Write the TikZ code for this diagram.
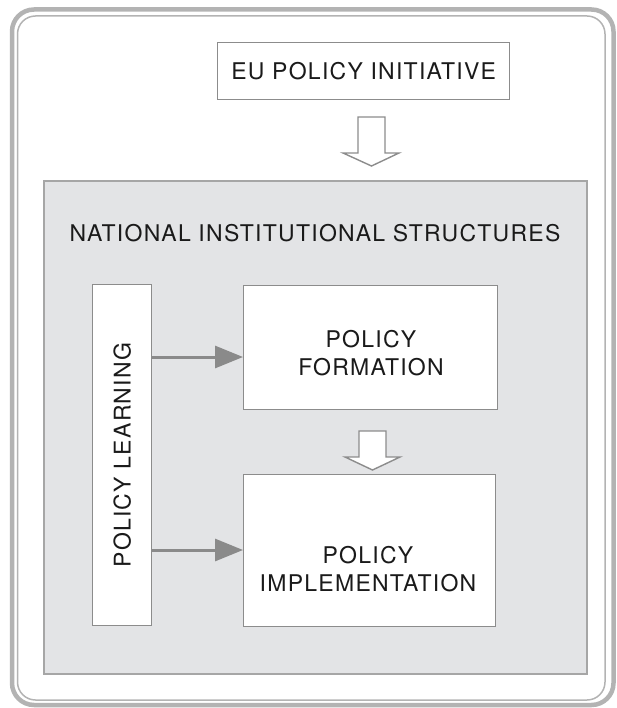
\documentclass[tikz,border=0pt]{standalone}
\usepackage{fontspec}
\setmainfont{TeX Gyre Heros}[LetterSpace=5.5]
\usetikzlibrary{arrows.meta}
\definecolor{framegray}{HTML}{B3B3B3}
\definecolor{panelfill}{HTML}{E3E4E6}
\definecolor{panelline}{HTML}{A6A6A6}
\definecolor{boxline}{HTML}{8C8C8C}
\definecolor{arrowgray}{HTML}{8A8A8A}
\definecolor{txt}{HTML}{1A1A1A}
\tikzset{
  box/.style={draw=boxline, line width=1.4pt, fill=white},
  lbl/.style={text=txt, font=\fontsize{23}{28}\selectfont, align=center, inner sep=0pt},
  hollow/.style={draw=boxline, line width=1.4pt, fill=white, line join=miter},
  solidarrow/.style={draw=arrowgray, line width=3pt, -{Triangle[length=28pt,width=22pt]}}
}
\begin{document}
\begin{tikzpicture}[x=1pt,y=-1pt]
\useasboundingbox (0,0) rectangle (616,708);
% outer frame
\draw[framegray, line width=4.5pt, rounded corners=22pt] (12,9.5) rectangle (613.5,705);
\draw[framegray, line width=1.5pt, rounded corners=18pt] (17.5,16) rectangle (605,700);
% panel
\node[draw=panelline, fill=panelfill, line width=1.8pt, minimum width=543pt, minimum height=493pt, inner sep=0pt, anchor=north west] (panel) at (43,180) {};
% EU box
\node[box, minimum width=292pt, minimum height=57pt, inner sep=0pt, anchor=north west] (eu) at (217,42) {};
\node[lbl] (eut) at (eu.center) {EU POLICY INITIATIVE};
% hollow arrow 1
\draw[hollow] (358,117) -- (385,117) -- (385,153) -- (399,153) -- (371.5,166) -- (343,153) -- (358,153) -- cycle;
% title
\node[lbl, anchor=base] (title) at (315,241) {NATIONAL INSTITUTIONAL STRUCTURES};
% policy learning
\node[box, minimum width=59pt, minimum height=341pt, inner sep=0pt, anchor=north west] (pl) at (92,284) {};
\node[lbl, rotate=90] (plt) at (pl.center) {POLICY LEARNING};
% formation
\node[box, minimum width=254pt, minimum height=124pt, inner sep=0pt, anchor=north west] (fm) at (243,285) {};
\node[lbl] (fmt) at (371,353) {POLICY\\FORMATION};
% hollow arrow 2
\draw[hollow] (359,431) -- (386,431) -- (386,457) -- (400,457) -- (372.5,470) -- (345,457) -- (359,457) -- cycle;
% implementation
\node[box, minimum width=252pt, minimum height=152pt, inner sep=0pt, anchor=north west] (im) at (243,474) {};
\node[lbl] (imt) at (368,569) {POLICY\\IMPLEMENTATION};
% solid arrows
\coordinate (a1) at (0,357);
\coordinate (a2) at (0,550);
\draw[solidarrow] (pl.east |- a1) -- (fm.west |- a1);
\draw[solidarrow] (pl.east |- a2) -- (im.west |- a2);
\end{tikzpicture}
\end{document}
